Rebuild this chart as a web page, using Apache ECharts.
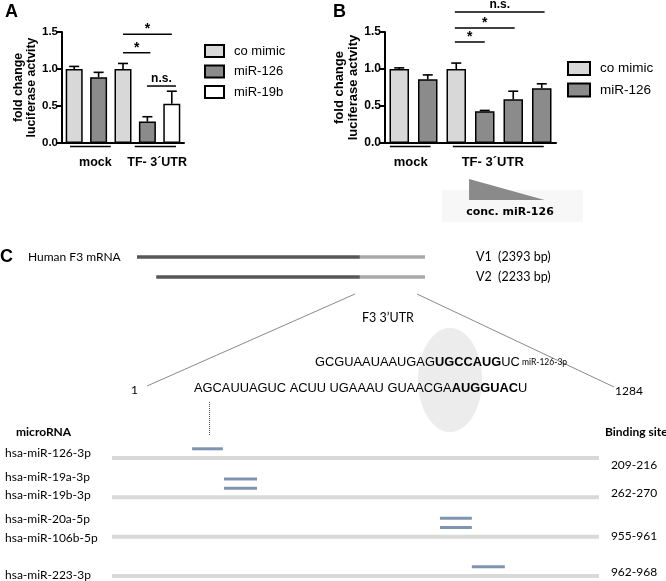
<!DOCTYPE html>
<html><head><meta charset="utf-8">
<script src="https://cdn.jsdelivr.net/npm/echarts@6/dist/echarts.min.js"></script>
<style>html,body{margin:0;padding:0;background:#fff}#c{width:666px;height:581px}</style>
</head><body><div id="c"></div>
<script>
// ---------- DATA ----------
// Panel A
const catsA = ['mock / co mimic', 'mock / miR-126', 'TF-3´UTR / co mimic', 'TF-3´UTR / miR-126', 'TF-3´UTR / miR-19b'];
const aCoMimic = [1.00, '-', 1.00, '-', '-'];
const aMiR126  = ['-', 0.89, '-', 0.29, '-'];
const aMiR19b  = ['-', '-', '-', '-', 0.53];
const aErr     = [0.035, 0.065, 0.075, 0.065, 0.17];
// Panel B
const catsB = ['mock / co mimic', 'mock / miR-126', 'TF-3´UTR / co mimic', 'TF-3´UTR / miR-126 high', 'TF-3´UTR / miR-126 mid', 'TF-3´UTR / miR-126 low'];
const bCoMimic = [1.00, '-', 1.00, '-', '-', '-'];
const bMiR126  = ['-', 0.86, '-', 0.43, 0.59, 0.74];
const bErr     = [0.015, 0.06, 0.08, 0.01, 0.11, 0.06];
const yTicks = [0.0, 0.5, 1.0, 1.5];
const groupNames = ['mock', 'TF- 3´UTR'];
const sigTextsA = ['*', '*', 'n.s.'];
const sigTextsB = ['*', '*', 'n.s.'];
// Panel C
const transcriptNames = ['V1', 'V2'];
const transcriptLen = [2393, 2233];
const cdsEnd = 1852;          // position where the drawn 3'UTR part begins (V1 coordinates)
const utrLen = 1284;
const mirNames   = ['hsa-miR-126-3p', 'hsa-miR-19a-3p', 'hsa-miR-19b-3p', 'hsa-miR-20a-5p', 'hsa-miR-106b-5p', 'hsa-miR-223-3p'];
const mirRow     = [0, 1, 1, 2, 2, 3];
const mirLevel   = [1, 2, 1, 2, 1, 1];
const markStart  = [212, 296, 296, 865, 865, 949];
const markEnd    = [293, 383, 383, 949, 949, 1036];
const bindingSites = ['209-216', '262-270', '955-961', '962-968'];
const seqMir  = ['GCGUAAUAAUGAG', 'UGCCAUG', 'UC'];
const seqUtr  = ['AGCAUUAGUC ACUU UGAAAU GUAACGA', 'AUGGUAC', 'U'];

// ---------- LAYOUT / STYLE ----------
const F  = '"Liberation Sans", Arial, sans-serif';
const FC = 'Lato, "Open Sans", sans-serif';
const FN = '"Liberation Sans Narrow", "Arial Narrow", sans-serif';
const FD = '"DejaVu Sans", sans-serif';
const cLight = '#d8d8d8', cDark = '#8b8b8b';
const groupSpanA = [[-0.17, 1.5, 0.87], [2.48, 4.17, 3.4]];
const groupSpanB = [[-0.33, 1.1, 0.4], [1.88, 5.07, 3.28]];
const sigA = [[2, 4, 1.47], [2, 3.12, 1.22], [2.98, 4.17, 0.77]];
const sigB = [[1.95, 3.0, 1.365], [1.95, 4.05, 1.555], [1.95, 5.1, 1.77]];
const nameOff = [-5, -20, -2, -18, 1, -1];
const siteOff = [7, -4, -1, -4];
const seqFont = 12.85;

function topVals(...arrs) {
  return arrs[0].map((_, i) => { for (const a of arrs) { if (a[i] !== '-') return a[i]; } return 0; });
}
const topA = topVals(aCoMimic, aMiR126, aMiR19b);
const topB = topVals(bCoMimic, bMiR126);

function errSeries(idx, vals, errs) {
  return {
    type: 'custom', name: 'err' + idx, xAxisIndex: idx, yAxisIndex: idx, z: 5, silent: true,
    data: vals.map((v, i) => [i, v, errs[i]]),
    renderItem(params, api) {
      const i = api.value(0), v = api.value(1), e = api.value(2);
      const b = api.coord([i, v]), t = api.coord([i, v + e]);
      const s = { stroke: '#000', lineWidth: 1.6 };
      return { type: 'group', children: [
        { type: 'line', shape: { x1: b[0], y1: b[1], x2: t[0], y2: t[1] }, style: s },
        { type: 'line', shape: { x1: t[0] - 5, y1: t[1], x2: t[0] + 5, y2: t[1] }, style: s }
      ]};
    }
  };
}
function barSeries(name, idx, data, color, w) {
  return { type: 'bar', name, xAxisIndex: idx, yAxisIndex: idx, data, barWidth: w, barGap: '-100%',
    itemStyle: { color, borderColor: '#000', borderWidth: 1.5 }, silent: true, z: 3 };
}
function valueY(idx, fs, gap, nameSize) {
  return {
    type: 'value', gridIndex: idx, min: 0, max: 1.5, interval: 0.5,
    axisLine: { show: true, lineStyle: { color: '#000', width: 2 } },
    axisTick: { show: true, length: 5, lineStyle: { color: '#000', width: 2 } },
    splitLine: { show: false },
    axisLabel: { color: '#000', fontFamily: F, fontWeight: 'bold', fontSize: fs, margin: 4,
      formatter: v => yTicks.includes(v) ? v.toFixed(1) : '' },
    name: 'fold change\nluciferase actvity', nameLocation: 'middle', nameRotate: 90, nameGap: gap,
    nameTextStyle: { fontFamily: F, fontWeight: 'bold', fontSize: nameSize, color: '#000', lineHeight: nameSize + 1 }
  };
}
function catX(idx, data) {
  return { type: 'category', gridIndex: idx, data,
    axisLine: { show: true, lineStyle: { color: '#000', width: 2 } },
    axisTick: { show: false }, axisLabel: { show: false } };
}

const chart = echarts.init(document.getElementById('c'));
const option = {
  animation: false,
  backgroundColor: '#fff',
  grid: [
    { left: 62, top: 32, width: 122, height: 111 },
    { left: 385, top: 32, width: 171, height: 111 },
    { left: 137, top: 257, width: 288, height: 20 },
    { left: 112, top: 458, width: 487, height: 118 }
  ],
  xAxis: [
    catX(0, catsA), catX(1, catsB),
    { type: 'value', gridIndex: 2, min: 0, max: Math.max(...transcriptLen), show: false },
    { type: 'value', gridIndex: 3, min: 1, max: utrLen, show: false }
  ],
  yAxis: [
    valueY(0, 11.5, 23, 12.3), valueY(1, 12, 25, 13),
    { type: 'value', gridIndex: 2, min: 0, max: 1, inverse: true, show: false },
    { type: 'value', gridIndex: 3, min: 0, max: 3, inverse: true, show: false }
  ],
  legend: [
    { data: ['co mimic', 'miR-126', 'miR-19b'], orient: 'vertical', left: 199, top: 39,
      itemWidth: 19, itemHeight: 12, itemGap: 6.5, icon: 'rect', selectedMode: false,
      textStyle: { fontFamily: F, fontSize: 13, color: '#000', padding: [0, 0, 0, 5] } },
    { data: ['co mimic', 'miR-126'], orient: 'vertical', left: 562, top: 56,
      itemWidth: 22, itemHeight: 13, itemGap: 6.5, icon: 'rect', selectedMode: false,
      textStyle: { fontFamily: F, fontSize: 13.5, color: '#000', padding: [0, 0, 0, 5] } }
  ],
  series: [
    barSeries('co mimic', 0, aCoMimic, cLight, 17),
    barSeries('miR-126', 0, aMiR126, cDark, 17),
    barSeries('miR-19b', 0, aMiR19b, '#fff', 17),
    errSeries(0, topA, aErr),
    barSeries('co mimic', 1, bCoMimic, cLight, 19.5),
    barSeries('miR-126', 1, bMiR126, cDark, 19.5),
    errSeries(1, topB, bErr),
    { // transcripts
      type: 'custom', name: 'transcripts', xAxisIndex: 2, yAxisIndex: 2, silent: true,
      data: transcriptLen.map((L, r) => [Math.max(...transcriptLen) - L, r, cdsEnd, Math.max(...transcriptLen)]),
      encode: { x: [0, 2, 3], y: 1 },
      renderItem(params, api) {
        const r = api.value(1);
        const a = api.coord([api.value(0), r]), m = api.coord([api.value(2), r]), e = api.coord([api.value(3), r]);
        return { type: 'group', children: [
          { type: 'line', shape: { x1: a[0], y1: a[1], x2: m[0], y2: m[1] }, style: { stroke: '#575757', lineWidth: 3.5 } },
          { type: 'line', shape: { x1: m[0], y1: m[1], x2: e[0], y2: e[1] }, style: { stroke: '#a9a9a9', lineWidth: 3.5 } }
        ]};
      }
    },
    { // tracks
      type: 'custom', name: 'tracks', xAxisIndex: 3, yAxisIndex: 3, silent: true,
      data: bindingSites.map((_, r) => [1, r, utrLen]),
      encode: { x: [0, 2], y: 1 },
      renderItem(params, api) {
        const a = api.coord([api.value(0), api.value(1)]), b = api.coord([api.value(2), api.value(1)]);
        return { type: 'line', shape: { x1: a[0], y1: a[1], x2: b[0], y2: b[1] }, style: { stroke: '#d9d9d9', lineWidth: 4 } };
      }
    },
    { // binding markers
      type: 'custom', name: 'markers', xAxisIndex: 3, yAxisIndex: 3, silent: true, z: 4,
      data: mirNames.map((_, i) => [markStart[i], mirRow[i], markEnd[i], mirLevel[i]]),
      encode: { x: [0, 2], y: 1 },
      renderItem(params, api) {
        const a = api.coord([api.value(0), api.value(1)]), b = api.coord([api.value(2), api.value(1)]);
        const dy = -9.2 * api.value(3);
        return { type: 'line', shape: { x1: a[0], y1: a[1] + dy, x2: b[0], y2: b[1] + dy }, style: { stroke: '#8094b2', lineWidth: 3 } };
      }
    }
  ]
};
chart.setOption(option);

// ---------- ANNOTATIONS (computed from axes) ----------
const px = (i, f) => { const p0 = chart.convertToPixel({ xAxisIndex: i }, 0), p1 = chart.convertToPixel({ xAxisIndex: i }, 1); return p0 + f * (p1 - p0); };
const py = (i, v) => chart.convertToPixel({ yAxisIndex: i }, v);
const T = (x, y, text, font, align, extra) => Object.assign({ type: 'text', x, y, silent: true,
  style: { text, font, fill: '#000', align: align || 'left', verticalAlign: 'middle', textAlign: align || 'left', textVerticalAlign: 'middle' } }, extra || {});
const L = (x1, y1, x2, y2, stroke, lw, dash) => ({ type: 'line', silent: true, shape: { x1, y1, x2, y2 }, style: { stroke, lineWidth: lw, lineDash: dash || null } });

const g = [];
// panel letters
g.push(T(5, 12, 'A', 'bold 18px ' + F));
g.push(T(333, 12, 'B', 'bold 18px ' + F));
g.push(T(0, 257, 'C', 'bold 18px ' + F));
// group brackets & labels
[[0, groupSpanA, 12.5], [1, groupSpanB, 13]].forEach(([gi, spans, fs]) => {
  const y0 = py(gi, 0);
  spans.forEach((s, k) => {
    g.push(L(px(gi, s[0]), y0 + 3.5, px(gi, s[1]), y0 + 3.5, '#000', 1.5));
    g.push(T(px(gi, s[2]), y0 + 19.5, groupNames[k], 'bold ' + fs + 'px ' + F, 'center'));
  });
});
// significance
[[0, sigA, sigTextsA], [1, sigB, sigTextsB]].forEach(([gi, sig, txt]) => {
  sig.forEach((s, k) => {
    const y = py(gi, s[2]);
    g.push(L(px(gi, s[0]), y, px(gi, s[1]), y, '#000', 1.5));
    const star = txt[k] === '*';
    g.push(T((px(gi, s[0]) + px(gi, s[1])) / 2, y - (star ? 5 : 7), txt[k], 'bold ' + (star ? 14 : 12) + 'px ' + F, 'center'));
  });
});
// concentration wedge (panel B)
g.push({ type: 'rect', silent: true, shape: { x: 442, y: 190, width: 141, height: 32 }, style: { fill: '#f7f7f7' } });
g.push({ type: 'polygon', silent: true, shape: { points: [[px(1, 2.45), 179], [px(1, 2.45), 200], [px(1, 5.1), 200]] }, style: { fill: '#8a8a8a' } });
g.push(T(510, 212, 'conc. miR-126', 'bold 11px ' + FD, 'center'));
// panel C: transcripts
g.push(T(28, 257, 'Human F3 mRNA', '12px ' + FC));
transcriptLen.forEach((L0, r) => g.push(T(476, py(2, r), transcriptNames[r] + '  (' + L0 + ' bp)', '12.5px ' + FC)));
// zoom lines
g.push(L(355, 294, 147, 386, '#8a8a8a', 1));
g.push(L(417, 294, 614, 387, '#8a8a8a', 1));
g.push(T(362, 318, 'F3 3\u2019UTR', '12.5px ' + FC));
g.push({ type: 'ellipse', silent: true, z: -1, shape: { cx: 450, cy: 380, rx: 32, ry: 52 }, style: { fill: '#ececec' } });
g.push({ type: 'text', x: 315, y: 362, silent: true, style: {
  text: '{a|' + seqMir[0] + '}{b|' + seqMir[1] + '}{a|' + seqMir[2] + '}{s| miR-126-3p}',
  verticalAlign: 'middle', textVerticalAlign: 'middle',
  rich: { a: { font: seqFont + 'px ' + FN, fill: '#000' }, b: { font: 'bold ' + seqFont + 'px ' + FN, fill: '#000' }, s: { font: '8.5px ' + FC, fill: '#000' } } } });
g.push({ type: 'text', x: 194, y: 388, silent: true, style: {
  text: '{a|' + seqUtr[0] + '}{b|' + seqUtr[1] + '}{a|' + seqUtr[2] + '}',
  verticalAlign: 'middle', textVerticalAlign: 'middle',
  rich: { a: { font: seqFont + 'px ' + FN, fill: '#000' }, b: { font: 'bold ' + seqFont + 'px ' + FN, fill: '#000' } } } });
g.push(T(131, 390, '1', '12px ' + FC));
g.push(T(615, 391, String(utrLen), '12px ' + FC));
g.push(L(209.5, 402, 209.5, 436, '#555', 1, [1, 1]));
g.push(T(16, 432, 'microRNA', 'bold 12px ' + FC));
g.push(T(605, 432, 'Binding site', 'bold 12px ' + FC));
mirNames.forEach((n, i) => g.push(T(5, py(3, mirRow[i]) + nameOff[i], n, '12px ' + FC)));
bindingSites.forEach((b, r) => g.push(T(634, py(3, r) + siteOff[r], b, '12px ' + FC, 'center')));

chart.setOption({ graphic: { elements: g } });
</script></body></html>
